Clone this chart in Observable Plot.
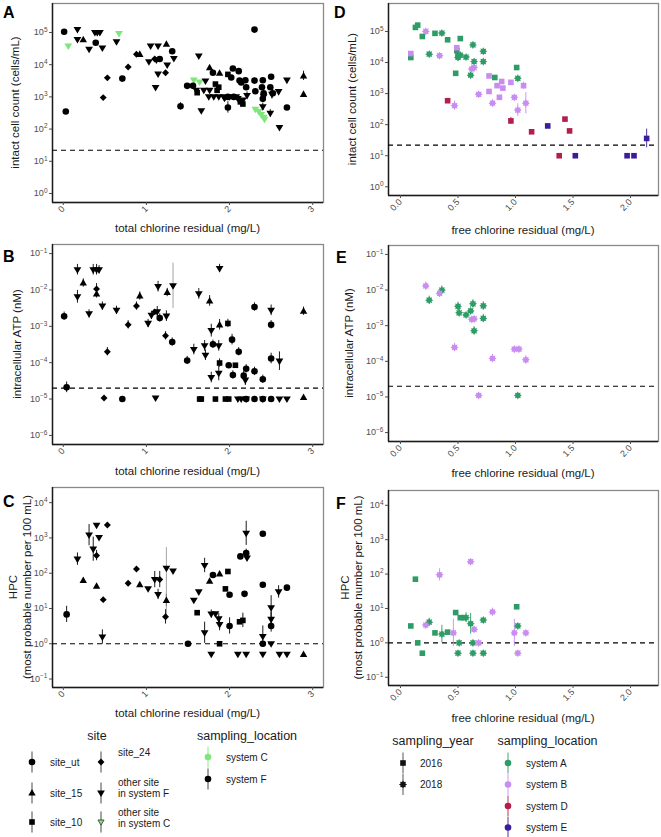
<!DOCTYPE html>
<html><head><meta charset="utf-8">
<script src="https://cdn.jsdelivr.net/npm/d3@7"></script>
<script src="https://cdn.jsdelivr.net/npm/@observablehq/plot@0.6"></script>
<style>
body{margin:0;background:#fff;}
#wrap{position:relative;width:661px;height:837px;overflow:hidden;background:#fff;}
</style></head><body><div id="wrap"></div>
<script>
// ---------------- DATA ----------------
// [total chlorine (mg/L), value, site, errFactorUp?, errFactorDown?]
const cellsTotal = [
 [0.01,1.05e5,"ut"],[0.03,350,"ut"],[0.39,4.8e4,"ut"],[0.71,3.7e3,"ut"],[1.16,1.5e4,"ut"],[1.31,2.6e4,"ut"],[1.41,510,"ut",1.3],[1.49,2.2e3,"ut"],[1.56,2.2e3,"ut"],[1.80,5.6e3,"ut"],[1.98,1.0e3,"ut"],[1.98,470,"ut",1.5],[2.02,4.0e3,"ut"],[2.04,7.6e3,"ut"],[2.11,6.3e3,"ut"],[2.12,3.2e3,"ut"],[2.14,2.8e3,"ut"],[2.19,3.3e3,"ut"],[2.20,2.0e3,"ut"],[2.30,1.23e5,"ut"],[2.30,3.2e3,"ut"],[2.31,1.5e3,"ut"],[2.40,3.3e3,"ut"],[2.39,2.0e3,"ut"],[2.41,1.3e3,"ut"],[2.40,870,"ut",1.3],[2.50,4.2e3,"ut"],[2.49,2.0e3,"ut"],[2.52,1.3e3,"ut",1.3],[2.69,470,"ut"],[2.05,1.0e3,"ut"],
 [0.24,6.0e4,"15"],[0.92,2.1e4,"15"],[1.24,4.3e4,"15"],[1.76,8.1e3,"15"],[1.88,5.4e3,"15"],[2.89,4.5e3,"15",1.4],[2.89,1.2e3,"15"],
 [1.61,1.35e3,"10"],[1.83,2.5e3,"10"],[1.87,2.0e3,"10"],[1.98,5.0e3,"10"],[2.16,600,"10"],[1.85,1.6e3,"10"],[2.13,700,"10"],
 [0.48,950,"24"],[0.53,3.9e3,"24"],[0.78,8.5e3,"24"],[0.88,2.1e4,"24"],[1.10,1.5e4,"24"],[1.23,5.6e3,"24"],
 [0.17,1.23e5,"F"],[0.17,6.0e4,"F"],[0.31,3.0e4,"F"],[0.38,1.0e5,"F"],[0.41,1.0e5,"F"],[0.44,1.0e5,"F"],[0.47,3.3e4,"F"],[0.64,5.1e4,"F"],[1.03,1.23e4,"F"],[1.05,3.8e4,"F"],[1.14,3.8e4,"F"],[1.12,1.4e4,"F"],[1.14,5.1e3,"F"],[1.25,9.8e3,"F"],[1.33,1.55e4,"F"],[1.11,1.95e3,"F"],[1.63,1.86e4,"F"],[1.66,370,"F"],[1.71,3.1e3,"F"],[1.69,1.6e3,"F"],[1.76,1.6e3,"F"],[1.75,1.0e3,"F"],[1.81,1.0e3,"F"],[1.87,1.0e3,"F"],[1.93,1.0e3,"F"],[2.00,1.0e3,"F"],[2.08,1.0e3,"F"],[2.10,890,"F"],[2.16,790,"F"],[2.21,1.1e3,"F",1.3],[2.40,490,"F",1.3],[2.41,1.0e3,"F",1.3],[2.51,1.2e3,"F",1.4],[2.49,310,"F",1.3],[2.59,1.45e3,"F"],[2.60,112,"F"],[2.69,3.3e3,"F"],[1.60,1.6e3,"F"],[1.94,900,"F"],
 [0.06,3.8e4,"C"],[0.40,1.0e5,"C"],[0.67,9.3e4,"C"],[1.57,3.3e3,"C"],[1.64,2.9e3,"C"],[2.31,410,"C"],[2.35,350,"C"],[2.38,280,"C"],[2.41,230,"C"],[2.42,200,"C"]
];
const atpTotal = [
 [0.01,1.9e-3,"ut",1.3],[0.04,2.1e-5,"ut",1.4],[0.71,1.0e-5,"ut"],[1.16,1.7e-3,"ut",1.3],[1.31,3.7e-4,"ut",1.3],[1.49,1.15e-4,"ut",1.3],[1.80,3.2e-4,"ut",1.3],[2.03,4.3e-4,"ut",1.4],[1.99,8.5e-5,"ut"],[2.04,4.6e-5,"ut",1.3],[2.11,2.0e-4,"ut",1.3],[2.17,4.4e-5,"ut",1.3],[2.20,6.8e-5,"ut",1.3],[2.30,3.4e-3,"ut",1.3],[2.30,5.8e-5,"ut",1.3],[2.40,3.5e-5,"ut",1.3],[2.50,1.1e-3,"ut",1.3],[2.50,1.3e-4,"ut",1.4],[2.20,1e-5,"ut"],[2.30,1e-5,"ut"],[2.40,1e-5,"ut"],[2.50,1e-5,"ut"],
 [0.24,1.55e-2,"15",1.3],[0.40,7.8e-3,"15",1.3],[0.92,6.8e-3,"15",1.3],[1.25,8.5e-3,"15",1.3],[1.76,5.0e-3,"15",1.4],[1.88,1.1e-3,"15",1.4],[2.89,2.6e-3,"15",1.3],[2.89,1.1e-5,"15"],
 [1.64,1e-5,"10"],[1.66,1e-5,"10"],[1.83,1e-5,"10"],[1.88,9.8e-5,"10",1.3],[1.98,1.2e-3,"10",1.3],[1.95,1e-5,"10"],[1.99,1e-5,"10"],[2.07,8.5e-5,"10"],
 [0.40,1.07e-2,"24",1.4],[0.49,1.07e-5,"24"],[0.53,2.0e-4,"24",1.3],[0.78,1.1e-3,"24",1.3],[0.88,3.6e-3,"24",1.3],[1.10,2.5e-3,"24"],[1.23,5.5e-4,"24",1.3],
 [0.17,3.6e-2,"F",1.4],[0.17,6.5e-3,"F",1.5],[0.31,2.2e-3,"F",1.3],[0.36,3.6e-2,"F",1.4],[0.40,3.6e-2,"F",1.4],[0.43,3.6e-2,"F",1.3],[0.47,3.6e-3,"F",1.3],[0.64,2.75e-3,"F",1.3],[1.02,1.2e-3,"F",1.3],[1.06,2.0e-3,"F",1.3],[1.13,2.5e-3,"F",1.4],[1.14,1.23e-2,"F",1.4],[1.11,1.07e-5,"F"],[1.24,1.9e-3,"F",1.4],[1.32,1.3e-2,"F",4.2],[1.57,2.3e-4,"F",1.4],[1.63,7.8e-3,"F",1.4],[1.70,2.9e-4,"F",1.4],[1.71,1.6e-4,"F",1.4],[1.78,7.6e-4,"F",1.5],[1.78,3.9e-5,"F",1.4],[1.87,2.9e-4,"F",1.4],[1.88,3.9e-2,"F",1.3],[1.87,5.1e-5,"F",1.6],[2.19,3.3e-5,"F",1.4],[2.10,1e-5,"F"],[2.14,1e-5,"F"],[2.20,1e-5,"F"],[2.40,1e-5,"F"],[2.60,1e-5,"F"],[2.69,1e-5,"F"],[2.50,2.75e-3,"F",1.4],[2.60,1.1e-4,"F",1.8]
];
const hpcTotal = [
 [0.04,6.8,"ut",1.7],[1.50,1,"ut"],[1.80,89,"ut"],[2.00,24.5,"ut"],[2.00,3.2,"ut",1.7],[2.13,300,"ut"],[2.20,370,"ut",1.3],[2.18,26,"ut"],[2.40,1320,"ut"],[2.40,47,"ut"],[2.40,1,"ut"],[2.50,3.2,"ut",1.5],[2.69,39,"ut"],
 [0.24,62,"15"],[0.40,43,"15"],[0.92,47,"15"],[1.24,17,"15",1.5],[1.76,59,"15"],[1.88,95,"15"],[2.89,0.5,"15"],
 [1.61,7.6,"10"],[1.88,1,"10"],[1.95,36,"10"],[1.98,112,"10"],[2.12,4.2,"10"],[2.16,4.6,"10",1.6],
 [0.40,316,"24",1.4],[0.53,2340,"24"],[0.48,17.8,"24"],[0.78,52,"24"],[0.88,132,"24"],[1.16,66,"24",1.7],[1.23,5.8,"24",1.6],
 [0.17,250,"F",1.5],[0.31,1200,"F",2.0],[0.36,480,"F",2.2],[0.40,2290,"F"],[0.43,1020,"F"],[0.47,1.55,"F",1.6],[1.02,36,"F"],[1.10,66,"F",1.7],[1.14,25,"F",1.4],[1.24,138,"F",3.9,28],[1.32,115,"F"],[1.57,17,"F"],[1.63,29.5,"F"],[1.70,166,"F",1.6],[1.70,2.05,"F",2.0],[1.78,7,"F",1.3],[1.83,7.1,"F"],[1.87,5.1,"F",1.4],[1.88,3.5,"F",1.5],[2.21,270,"F"],[2.20,1350,"F",2.2],[2.40,1.6,"F",2.0],[2.50,10.5,"F",2.2],[2.50,4.9,"F",1.6],[2.50,1,"F"],[2.59,29.5,"F",1.5],[1.78,0.5,"F"],[2.10,0.5,"F"],[2.20,0.5,"F"],[2.40,0.5,"F"],[2.60,0.5,"F"],[2.69,0.5,"F"]
];
// [free chlorine (mg/L), value, sampling_location, sampling_year, errFactor?]
const cellsFree = [
 [0.09,1.45e4,"A",2016],[0.13,1.35e5,"A",2016],[0.15,1.6e5,"A",2016],[0.19,6.9e4,"A",2016],[0.30,8.7e4,"A",2016],[0.41,5.4e4,"A",2016],[0.48,4.5e3,"A",2016],[0.49,2.4e4,"A",2016],[0.50,1.66e4,"A",2016],[0.52,5.9e4,"A",2016],[0.82,3.3e3,"A",2016],[1.01,6.9e3,"A",2016],
 [0.25,1.86e4,"A",2018],[0.36,8.9e4,"A",2018],[0.50,1.45e4,"A",2018],[0.52,1.74e4,"A",2018],[0.57,1.5e4,"A",2018],[0.61,3.9e3,"A",2018],[0.63,3.7e4,"A",2018],[0.64,1.07e4,"A",2018],[0.72,2.3e4,"A",2018],[0.72,1.07e4,"A",2018],[1.02,3.1e3,"A",2018],
 [0.09,1.95e4,"B",2016],[0.49,3.0e4,"B",2016],[0.77,3.7e3,"B",2016],[0.77,1.17e3,"B",2016],[0.84,1.8e3,"B",2016],[0.88,2.45e3,"B",2016],[0.89,1.5e3,"B",2016],[0.86,760,"B",2016],[0.96,2.3e3,"B",2016],[1.07,1.8e3,"B",2016,1.3],
 [0.22,1.0e5,"B",2018],[0.34,1.66e4,"B",2018],[0.47,410,"B",2018,1.4],[0.62,6.2e3,"B",2018],[0.64,6.9e3,"B",2018],[0.68,950,"B",2018],[0.80,490,"B",2018,1.3],[0.99,760,"B",2018],[1.02,295,"B",2018,1.6],[1.09,490,"B",2018,2.2],
 [0.41,590,"D",2016],[0.96,132,"D",2016,1.3],[1.14,59,"D",2016],[1.38,10,"D",2016],[1.43,151,"D",2016],[1.47,63,"D",2016],
 [1.28,91,"E",2016],[1.52,10,"E",2016],[1.97,10,"E",2016],[2.03,10,"E",2016],[2.14,36,"E",2016,2.0]
];
const atpFree = [
 [0.25,5.2e-3,"A",2018,1.3],[0.36,1.0e-2,"A",2018,1.3],[0.50,3.5e-3,"A",2018,1.3],[0.51,2.3e-3,"A",2018,1.3],[0.57,2.0e-3,"A",2018],[0.61,2.6e-3,"A",2018],[0.63,4.1e-3,"A",2018,1.3],[0.64,7.2e-4,"A",2018,1.3],[0.72,3.6e-3,"A",2018,1.3],[0.72,1.6e-3,"A",2018,1.3],[1.02,1.1e-5,"A",2018],
 [0.22,1.3e-2,"B",2018,1.3],[0.34,8.1e-3,"B",2018,1.3],[0.47,2.45e-4,"B",2018,1.3],[0.62,1.5e-3,"B",2018],[0.64,1.55e-3,"B",2018],[0.68,1.1e-5,"B",2018],[0.80,1.2e-4,"B",2018,1.3],[0.99,2.2e-4,"B",2018],[1.03,2.2e-4,"B",2018],[1.09,1.1e-4,"B",2018,1.3]
];
const hpcFree = [
 [0.13,71,"A",2016],[0.09,3.1,"A",2016],[0.15,1,"A",2016],[0.30,1.95,"A",2016],[0.41,2.05,"A",2016],[0.48,7.6,"A",2016],[0.52,5.4,"A",2016],[0.55,5.4,"A",2016],[1.01,11.2,"A",2016],[0.19,0.5,"A",2016],
 [0.25,4.0,"A",2018,1.3],[0.36,1.8,"A",2018,1.8],[0.57,5.4,"A",2018,1.4],[0.61,3.6,"A",2018,2.0],[0.72,4.6,"A",2018],[1.02,3.1,"A",2018],[0.51,1,"A",2018],[0.63,1,"A",2018],[0.50,0.5,"A",2018],[0.63,0.5,"A",2018],[0.72,0.5,"A",2018],
 [0.34,95,"B",2018,1.5],[0.61,229,"B",2018],[0.22,3.3,"B",2018],[0.46,1.95,"B",2018,2.5],[0.64,2.45,"B",2018],[0.80,7.9,"B",2018,1.3],[0.99,1.95,"B",2018,2.5],[1.09,1.95,"B",2018],[0.68,1,"B",2018],[1.02,0.5,"B",2018]
];
const detectionLimits = [22, 2e-5, 1];           // cells/mL, nM, MPN/100 mL
const xTicksTotal = [0, 1, 2, 3];
const xTicksFree = [0, 0.5, 1, 1.5, 2];
const yTicksCells = [1, 10, 100, 1e3, 1e4, 1e5];
const yTicksATP = [1e-6, 1e-5, 1e-4, 1e-3, 1e-2, 1e-1];
const yTicksHPC = [0.1, 1, 10, 100, 1e3, 1e4];
const siteKeys = ["ut", "15", "10", "24", "F", "C"];
const siteLabels = ["site_ut", "site_15", "site_10", "site_24", "other site\nin system F", "other site\nin system C"];
const locTotalKeys = ["system C", "system F"];
const locFreeKeys = ["A", "B", "D", "E"];
const locFreeLabels = ["system A", "system B", "system D", "system E"];
const yearKeys = [2016, 2018];

// ---------------- STYLE ----------------
const FONT = '"Liberation Sans", Arial, Helvetica, sans-serif';
const COL_C = "#7fe67b", COL_F = "#000000";
const LOC_COL = {A: "#2e9c66", B: "#c98cf0", D: "#b31e4b", E: "#3b1c99"};
const Rr = s => Math.sqrt(s / Math.PI);
const symCircle = {draw(c, s) { const r = Rr(s); c.moveTo(r, 0); c.arc(0, 0, r, 0, 2 * Math.PI); c.closePath(); }};
const symSquare = {draw(c, s) { const h = Rr(s) * 0.85; c.rect(-h, -h, 2 * h, 2 * h); }};
const symTriUp = {draw(c, s) { const r = Rr(s); c.moveTo(0, -1.2 * r); c.lineTo(1.12 * r, 0.78 * r); c.lineTo(-1.12 * r, 0.78 * r); c.closePath(); }};
const symTriDown = {draw(c, s) { const r = Rr(s); c.moveTo(0, 1.2 * r); c.lineTo(1.18 * r, -0.78 * r); c.lineTo(-1.18 * r, -0.78 * r); c.closePath(); }};
const symDiamond = {draw(c, s) { const r = Rr(s) * 1.05; c.moveTo(0, -r); c.lineTo(r, 0); c.lineTo(0, r); c.lineTo(-r, 0); c.closePath(); }};
const symStar = {draw(c, s) { const r = Rr(s); const ro = 1.22 * r, ri = 0.78 * r;
  for (let i = 0; i < 16; i++) { const a = i * Math.PI / 8 - Math.PI / 2; const rr = i % 2 ? ri : ro;
    i ? c.lineTo(rr * Math.cos(a), rr * Math.sin(a)) : c.moveTo(rr * Math.cos(a), rr * Math.sin(a)); } c.closePath(); }};
const SITE_SYM = {ut: symCircle, "15": symTriUp, "10": symSquare, "24": symDiamond, F: symTriDown, C: symTriDown};
const YEAR_SYM = {2016: symSquare, 2018: symStar};

const totalRows = arr => arr.map(([x, y, site, f, f2]) => ({x, y, g: site, sym: SITE_SYM[site], col: site === "C" ? COL_C : COL_F, f, f2: f2 ?? f}));
const freeRows = arr => arr.map(([x, y, loc, yr, f, f2]) => ({x, y, g: loc + yr, sym: YEAR_SYM[yr], col: LOC_COL[loc], f, f2: f2 ?? f}));
const orderTotal = ["C", "ut", "15", "10", "24", "F"];
const orderFree = ["A2016", "A2018", "B2016", "B2018", "D2016", "E2016"];

const xdTotal = [-0.13, 3.13], xdFree = [-0.104, 2.243];
const ydCells = [10 ** -0.28, 10 ** 5.9], ydATP = [10 ** -6.25, 10 ** -0.75], ydHPC = [10 ** -1.24, 10 ** 4.43];
const fmtInt = d => String(d), fmt1 = d3.format(".1f");

const specs = [
 {rows: totalRows(cellsTotal), order: orderTotal, left: 0, top: 0, width: 330, height: 240, mL: 52, mR: 7, mT: 3, mB: 38, xd: xdTotal, xt: xTicksTotal, xf: fmtInt, yd: ydCells, yt: yTicksCells, h: detectionLimits[0]},
 {rows: totalRows(atpTotal), order: orderTotal, left: 0, top: 241, width: 330, height: 240, mL: 52, mR: 7, mT: 3, mB: 37, xd: xdTotal, xt: xTicksTotal, xf: fmtInt, yd: ydATP, yt: yTicksATP, h: detectionLimits[1]},
 {rows: totalRows(hpcTotal), order: orderTotal, left: 0, top: 484, width: 330, height: 240, mL: 52, mR: 7, mT: 3, mB: 37, xd: xdTotal, xt: xTicksTotal, xf: fmtInt, yd: ydHPC, yt: yTicksHPC, h: detectionLimits[2]},
 {rows: freeRows(cellsFree), order: orderFree, left: 330, top: 0, width: 331, height: 240, mL: 58, mR: 3, mT: 3, mB: 45, xd: xdFree, xt: xTicksFree, xf: fmt1, yd: ydCells, yt: yTicksCells, h: detectionLimits[0]},
 {rows: freeRows(atpFree), order: orderFree, left: 330, top: 242, width: 331, height: 240, mL: 58, mR: 3, mT: 3, mB: 41, xd: xdFree, xt: xTicksFree, xf: fmt1, yd: ydATP, yt: yTicksATP, h: detectionLimits[1]},
 {rows: freeRows(hpcFree), order: orderFree, left: 330, top: 487, width: 331, height: 240, mL: 58, mR: 3, mT: 3, mB: 42, xd: xdFree, xt: xTicksFree, xf: fmt1, yd: ydHPC, yt: yTicksHPC, h: detectionLimits[2]}
];

const wrap = document.getElementById("wrap");
function supTicks(svg) {
  const texts = svg.querySelectorAll('g[aria-label="y-axis tick label"] text');
  texts.forEach(t => {
    const e = t.textContent;
    t.textContent = "10";
    const ts = document.createElementNS("http://www.w3.org/2000/svg", "tspan");
    ts.setAttribute("dy", "-0.55em");
    ts.setAttribute("font-size", "6.5px");
    ts.textContent = e.replace("-", "\u2212");
    t.appendChild(ts);
  });
}
for (const s of specs) {
  const marks = [
    Plot.frame({stroke: "#8a8a8a", strokeWidth: 1.3}),
    Plot.ruleX([s.xd[0]], {stroke: "#1a1a1a", strokeWidth: 1.4}),
    Plot.ruleY([s.yd[0]], {stroke: "#1a1a1a", strokeWidth: 1.4}),
    Plot.axisX({ticks: s.xt, tickFormat: s.xf, tickRotate: -45, tickSize: 3, tickPadding: 2, label: null}),
    Plot.axisY({ticks: s.yt, tickFormat: d => String(Math.round(Math.log10(d))), tickSize: 3, tickPadding: 2, label: null}),
    Plot.ruleY([s.h], {stroke: "#000", strokeWidth: 1.2, strokeDasharray: "5,4"}),
    Plot.ruleX(s.rows.filter(d => d.f), {x: "x", y1: d => d.y / d.f2, y2: d => d.y * d.f, stroke: d => d.f >= 3 ? "#9a9a9a" : d.col, strokeWidth: 0.9})
  ];
  for (const g of s.order) {
    const grp = s.rows.filter(d => d.g === g);
    if (!grp.length) continue;
    marks.push(Plot.dot(grp, {x: "x", y: "y", symbol: grp[0].sym, r: 3.3, fill: "col", stroke: "none"}));
  }
  const svg = Plot.plot({
    width: s.width, height: s.height,
    marginLeft: s.mL, marginRight: s.mR, marginTop: s.mT, marginBottom: s.mB,
    x: {domain: s.xd, label: null},
    y: {type: "log", domain: s.yd, label: null},
    color: {type: "identity"},
    style: {fontFamily: FONT, fontSize: "9px", color: "#4d4d4d", background: "none", overflow: "visible"},
    marks
  });
  supTicks(svg);
  svg.style.position = "absolute";
  svg.style.left = s.left + "px";
  svg.style.top = s.top + "px";
  svg.style.maxWidth = "none";
  wrap.appendChild(svg);
}

// ---------------- OVERLAY: letters, titles, legends ----------------
const ov = d3.select(wrap).append("svg").attr("width", 661).attr("height", 837)
  .style("position", "absolute").style("left", "0px").style("top", "0px").attr("font-family", FONT);
function T(x, y, s, {size = 11.5, anchor = "start", weight = "normal", rot = 0, fill = "#1a1a1a"} = {}) {
  ov.append("text").attr("transform", `translate(${x},${y}) rotate(${rot})`)
    .attr("text-anchor", anchor).attr("font-size", size).attr("font-weight", weight)
    .attr("fill", fill).attr("dy", "0.35em").text(s);
}
[["A", 3, 12.5], ["B", 3, 256], ["C", 3, 501], ["D", 334, 12.5], ["E", 336, 257.5], ["F", 336, 503]]
  .forEach(([l, x, y]) => T(x, y, l, {size: 16, weight: "bold", fill: "#000"}));
T(187.5, 228, "total chlorine residual (mg/L)", {anchor: "middle"});
T(187.5, 471, "total chlorine residual (mg/L)", {anchor: "middle"});
T(187.5, 713, "total chlorine residual (mg/L)", {anchor: "middle"});
T(523, 230, "free chlorine residual (mg/L)", {anchor: "middle"});
T(523, 473, "free chlorine residual (mg/L)", {anchor: "middle"});
T(523, 718, "free chlorine residual (mg/L)", {anchor: "middle"});
T(15, 102.5, "intact cell count (cells/mL)", {anchor: "middle", rot: -90});
T(352, 99, "intact cell count (cells/mL)", {anchor: "middle", rot: -90});
T(17, 344, "intracellular ATP (nM)", {anchor: "middle", rot: -90});
T(349, 343, "intracellular ATP (nM)", {anchor: "middle", rot: -90});
T(13, 587, "HPC", {anchor: "middle", rot: -90});
T(27, 587, "(most probable number per 100 mL)", {anchor: "middle", rot: -90});
T(345, 587.5, "HPC", {anchor: "middle", rot: -90});
T(358, 587.5, "(most probable number per 100 mL)", {anchor: "middle", rot: -90});

function key(x, y, sym, col, {line = col, outline = null, r = 3.3} = {}) {
  ov.append("line").attr("x1", x).attr("x2", x).attr("y1", y - 10.5).attr("y2", y + 10.5)
    .attr("stroke", line).attr("stroke-width", 0.9);
  const p = ov.append("path").attr("transform", `translate(${x},${y})`)
    .attr("d", d3.symbol(sym, r * r * Math.PI)()).attr("fill", col);
  if (outline) p.attr("stroke", outline).attr("stroke-width", 0.8);
}
const LS = 10, LT = 12.5;
T(97, 736, "site", {anchor: "middle", size: LT});
key(32, 762, SITE_SYM[siteKeys[0]], "#000", {line: "#333"}); T(50, 762, siteLabels[0], {size: LS});
key(32, 793, SITE_SYM[siteKeys[1]], "#000", {line: "#333"}); T(50, 793, siteLabels[1], {size: LS});
key(32, 822, SITE_SYM[siteKeys[2]], "#000", {line: "#333"}); T(50, 822, siteLabels[2], {size: LS});
key(101, 762, SITE_SYM[siteKeys[3]], "#000", {line: "#333"}); T(118, 752, siteLabels[3], {size: LS});
key(101, 793, SITE_SYM[siteKeys[4]], "#000", {line: "#333"});
siteLabels[4].split("\n").forEach((l, i) => T(118, 782 + i * 11, l, {size: LS}));
key(101, 822, SITE_SYM[siteKeys[5]], COL_C, {line: "#333", outline: "#333", r: 2.6});
siteLabels[5].split("\n").forEach((l, i) => T(118, 812.5 + i * 11, l, {size: LS}));

T(247, 736, "sampling_location", {anchor: "middle", size: LT});
key(208, 757, symCircle, COL_C); T(226, 757, locTotalKeys[0], {size: LS});
key(208, 779, symCircle, "#000", {line: "#333"}); T(226, 779, locTotalKeys[1], {size: LS});

T(433, 741, "sampling_year", {anchor: "middle", size: LT});
yearKeys.forEach((yr, i) => { key(403, 763 + i * 21.5, YEAR_SYM[yr], "#111", {line: "#444"}); T(420, 763 + i * 21.5, String(yr), {size: LS}); });
T(547.5, 741, "sampling_location", {anchor: "middle", size: LT});
locFreeKeys.forEach((k, i) => { key(508, 763 + i * 21.5, symCircle, LOC_COL[k]); T(526, 763 + i * 21.5, locFreeLabels[i], {size: LS}); });
</script></body></html>
